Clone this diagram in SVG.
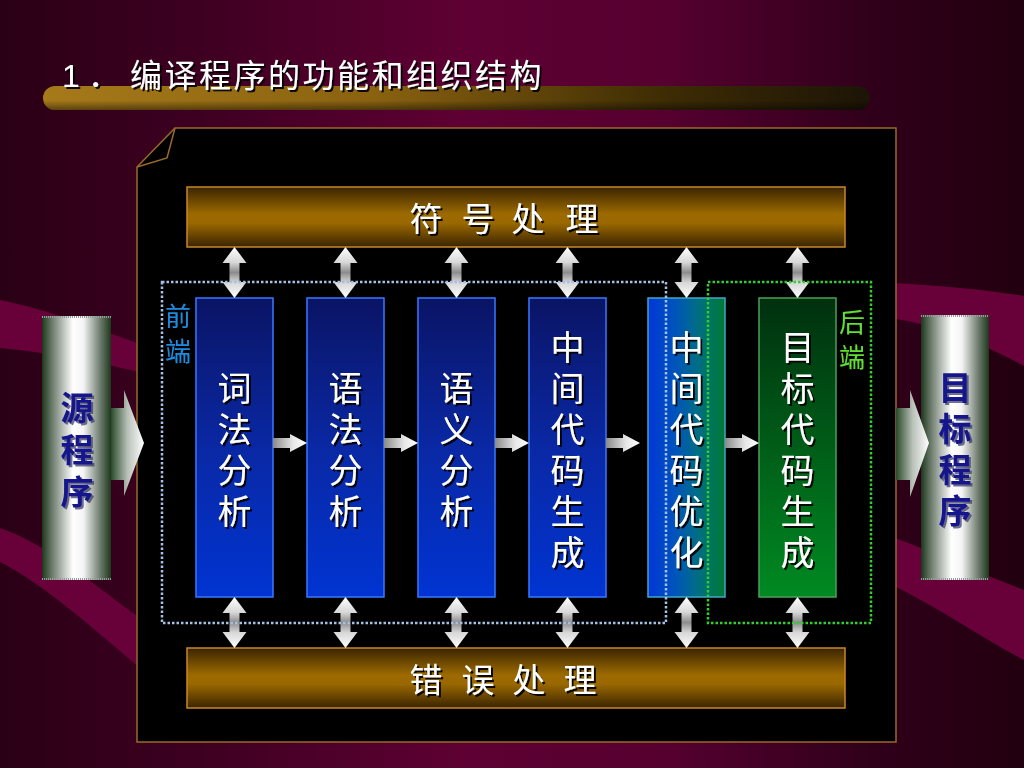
<svg xmlns="http://www.w3.org/2000/svg" xmlns:xlink="http://www.w3.org/1999/xlink" width="1024" height="768" viewBox="0 0 1024 768">
<defs>
  <linearGradient id="bg" x1="0" y1="0" x2="1" y2="0">
    <stop offset="0" stop-color="#2a0015"/>
    <stop offset="0.18" stop-color="#3c0020"/>
    <stop offset="0.45" stop-color="#5e0033"/>
    <stop offset="0.65" stop-color="#560030"/>
    <stop offset="0.85" stop-color="#30001a"/>
    <stop offset="1" stop-color="#22000f"/>
  </linearGradient>
  <linearGradient id="titlebar" x1="0" y1="0" x2="1" y2="0">
    <stop offset="0" stop-color="#a67a1a"/>
    <stop offset="0.4" stop-color="#8a6210"/>
    <stop offset="0.75" stop-color="#3e2c04"/>
    <stop offset="1" stop-color="#1c1406"/>
  </linearGradient>
  <linearGradient id="titlebarV" x1="0" y1="0" x2="0" y2="1">
    <stop offset="0" stop-color="#000" stop-opacity="0"/>
    <stop offset="0.6" stop-color="#000" stop-opacity="0"/>
    <stop offset="1" stop-color="#000" stop-opacity="0.45"/>
  </linearGradient>
  <linearGradient id="gold" x1="0" y1="0" x2="0" y2="1">
    <stop offset="0" stop-color="#3a2400"/>
    <stop offset="0.45" stop-color="#9c6a00"/>
    <stop offset="0.6" stop-color="#9a6800"/>
    <stop offset="1" stop-color="#3a2400"/>
  </linearGradient>
  <linearGradient id="blue" x1="0" y1="0" x2="0" y2="1">
    <stop offset="0" stop-color="#0a1464"/>
    <stop offset="0.5" stop-color="#0a28a4"/>
    <stop offset="1" stop-color="#0034d2"/>
  </linearGradient>
  <linearGradient id="bluegreen" x1="0" y1="0" x2="1" y2="0">
    <stop offset="0" stop-color="#0036d6"/>
    <stop offset="0.35" stop-color="#0054bc"/>
    <stop offset="0.65" stop-color="#006e84"/>
    <stop offset="1" stop-color="#007a32"/>
  </linearGradient>
  <linearGradient id="green" x1="0" y1="0" x2="0" y2="1">
    <stop offset="0" stop-color="#00300e"/>
    <stop offset="1" stop-color="#008a22"/>
  </linearGradient>
  <linearGradient id="metal" x1="0" y1="0" x2="1" y2="0">
    <stop offset="0" stop-color="#1c381c"/>
    <stop offset="0.15" stop-color="#6e7c6e"/>
    <stop offset="0.45" stop-color="#ffffff"/>
    <stop offset="0.6" stop-color="#f4f4f4"/>
    <stop offset="0.85" stop-color="#6a786a"/>
    <stop offset="1" stop-color="#1c381c"/>
  </linearGradient>
  <linearGradient id="bigArrow" x1="0" y1="0" x2="1" y2="0">
    <stop offset="0" stop-color="#2a4a2a"/>
    <stop offset="0.5" stop-color="#b8c0b8"/>
    <stop offset="1" stop-color="#ffffff"/>
  </linearGradient>
  <linearGradient id="vArrowFill" x1="0" y1="0" x2="0" y2="1">
    <stop offset="0" stop-color="#ffffff"/>
    <stop offset="0.3" stop-color="#d8d8d8"/>
    <stop offset="0.5" stop-color="#8c8c8c"/>
    <stop offset="0.7" stop-color="#d8d8d8"/>
    <stop offset="1" stop-color="#ffffff"/>
  </linearGradient>
  <linearGradient id="hArrowFill" x1="0" y1="0" x2="1" y2="0">
    <stop offset="0" stop-color="#8a8a8a"/>
    <stop offset="0.6" stop-color="#e8e8e8"/>
    <stop offset="1" stop-color="#ffffff"/>
  </linearGradient>
  <filter id="shadow" x="-20%" y="-20%" width="140%" height="140%">
    <feDropShadow dx="2" dy="2" stdDeviation="0.6" flood-color="#000" flood-opacity="0.9"/>
  </filter>
  <filter id="shadowBlue" x="-20%" y="-20%" width="140%" height="140%">
    <feDropShadow dx="2" dy="2" stdDeviation="0.6" flood-color="#303060" flood-opacity="0.7"/>
  </filter>
  <path id="vArrow" d="M0,0 L12,16 L5,16 L5,35 L12,35 L0,51 L-12,35 L-5,35 L-5,16 L-12,16 Z" fill="url(#vArrowFill)"/>
  <path id="hArrow" d="M0,-5 L17,-5 L17,-9 L34,0 L17,9 L17,5 L0,5 Z" fill="url(#hArrowFill)"/>
  <style>
    .cjk { font-family: "Liberation Sans", "Noto Sans CJK SC", sans-serif; }
    .title { font-size: 32px; fill: #ffffff; }
    .bar { stroke: #c8882c; stroke-width: 1.5; fill: url(#gold); }
    .barText { font-size: 33px; fill: #ffffff; text-anchor: middle; }
    .stageText { font-size: 34px; fill: #ffffff; text-anchor: middle; }
    .ioText { font-size: 33px; fill: #12128c; font-weight: bold; text-anchor: middle; }
    .sideText { font-size: 26px; text-anchor: middle; }
    .blueBox { fill: url(#blue); stroke: #3a78ff; stroke-width: 1.5; }
    .metalBox { fill: url(#metal); }
    .edge { stroke: #9a9a9a; stroke-width: 2; stroke-dasharray: 1 1; }
  </style>
</defs>

<!-- background -->
<rect x="0" y="0" width="1024" height="768" fill="url(#bg)"/>
<path d="M0,300 C50,310 100,330 140,344 L140,372 C95,362 45,352 0,348 Z" fill="#68003a"/>
<path d="M0,528 C50,545 100,590 140,618 L140,668 C95,630 45,585 0,562 Z" fill="#68003a"/>
<path d="M890,283 C940,285 985,290 1024,296 L1024,366 C985,345 940,325 890,318 Z" fill="#68003a"/>
<path d="M890,536 C940,555 985,575 1024,590 L1024,660 C985,640 940,608 890,584 Z" fill="#68003a"/>

<!-- title -->
<g id="title">
  <rect x="43" y="86" width="827" height="24" rx="12" fill="url(#titlebar)"/>
  <rect x="43" y="86" width="827" height="24" rx="12" fill="url(#titlebarV)"/>
  <text class="cjk title" filter="url(#shadow)" y="87"><tspan x="62">1</tspan><tspan x="88">．</tspan><tspan x="130" letter-spacing="2.5">编译程序的功能和组织结构</tspan></text>
</g>

<!-- panel -->
<g id="panel">
  <path d="M175,128 L896,128 L896,742 L137,742 L137,167 Z" fill="#000" stroke="#9a6a28" stroke-width="1.5"/>
  <path d="M175,128 L167,158 L137,167" fill="none" stroke="#9a6a28" stroke-width="1.5"/>
</g>

<!-- bars -->
<g id="symbol-table">
  <rect class="bar" x="187" y="187" width="658" height="60"/>
  <text class="cjk barText" filter="url(#shadow)" x="426 478 528 582" y="231">符号处理</text>
</g>
<g id="error-handling">
  <rect class="bar" x="187" y="648" width="658" height="60"/>
  <text class="cjk barText" filter="url(#shadow)" x="426 478 529 580" y="692">错误处理</text>
</g>

<!-- source / target -->
<g id="source">
  <rect class="metalBox" x="42" y="316" width="69" height="264"/>
  <line class="edge" x1="42" y1="317" x2="111" y2="317"/>
  <line class="edge" x1="42" y1="579" x2="111" y2="579"/>
  <text class="cjk ioText" filter="url(#shadowBlue)"><tspan x="77" y="420">源</tspan><tspan x="77" y="462">程</tspan><tspan x="77" y="504">序</tspan></text>
</g>
<g id="target">
  <rect class="metalBox" x="921" y="315" width="68" height="265"/>
  <line class="edge" x1="921" y1="316" x2="989" y2="316"/>
  <line class="edge" x1="921" y1="579" x2="989" y2="579"/>
  <text class="cjk ioText" filter="url(#shadowBlue)"><tspan x="955" y="400">目</tspan><tspan x="955" y="441">标</tspan><tspan x="955" y="482">程</tspan><tspan x="955" y="523">序</tspan></text>
</g>

<!-- stages -->
<g id="lexical">
  <rect class="blueBox" x="196" y="298" width="77" height="299"/>
  <text class="cjk stageText" filter="url(#shadow)"><tspan x="234.5" y="401">词</tspan><tspan x="234.5" y="442">法</tspan><tspan x="234.5" y="483">分</tspan><tspan x="234.5" y="524">析</tspan></text>
</g>
<g id="syntax">
  <rect class="blueBox" x="307" y="298" width="77" height="299"/>
  <text class="cjk stageText" filter="url(#shadow)"><tspan x="345.5" y="401">语</tspan><tspan x="345.5" y="442">法</tspan><tspan x="345.5" y="483">分</tspan><tspan x="345.5" y="524">析</tspan></text>
</g>
<g id="semantic">
  <rect class="blueBox" x="418" y="298" width="77" height="299"/>
  <text class="cjk stageText" filter="url(#shadow)"><tspan x="456.5" y="401">语</tspan><tspan x="456.5" y="442">义</tspan><tspan x="456.5" y="483">分</tspan><tspan x="456.5" y="524">析</tspan></text>
</g>
<g id="ir-gen">
  <rect class="blueBox" x="529" y="298" width="77" height="299"/>
  <text class="cjk stageText" filter="url(#shadow)"><tspan x="567.5" y="360">中</tspan><tspan x="567.5" y="401">间</tspan><tspan x="567.5" y="442">代</tspan><tspan x="567.5" y="483">码</tspan><tspan x="567.5" y="524">生</tspan><tspan x="567.5" y="565">成</tspan></text>
</g>
<g id="ir-opt">
  <rect x="648" y="298" width="77" height="299" fill="url(#bluegreen)" stroke="#40a8c8" stroke-width="1.5"/>
  <text class="cjk stageText" filter="url(#shadow)"><tspan x="686.5" y="360">中</tspan><tspan x="686.5" y="401">间</tspan><tspan x="686.5" y="442">代</tspan><tspan x="686.5" y="483">码</tspan><tspan x="686.5" y="524">优</tspan><tspan x="686.5" y="565">化</tspan></text>
</g>
<g id="codegen">
  <rect x="759" y="298" width="77" height="299" fill="url(#green)" stroke="#4aa05a" stroke-width="1.5"/>
  <text class="cjk stageText" filter="url(#shadow)"><tspan x="797.5" y="360">目</tspan><tspan x="797.5" y="401">标</tspan><tspan x="797.5" y="442">代</tspan><tspan x="797.5" y="483">码</tspan><tspan x="797.5" y="524">生</tspan><tspan x="797.5" y="565">成</tspan></text>
</g>

<!-- connectors -->
<g id="connectors">
  <path d="M111,408 L124,408 L124,390 L144,443 L124,496 L124,480 L111,480 Z" fill="url(#bigArrow)"/>
  <path d="M896,408 L910,408 L910,390 L929,443 L910,497 L910,480 L896,480 Z" fill="url(#bigArrow)"/>
  <use href="#vArrow" x="234.5" y="247"/>
  <use href="#vArrow" x="345.5" y="247"/>
  <use href="#vArrow" x="456.5" y="247"/>
  <use href="#vArrow" x="567.5" y="247"/>
  <use href="#vArrow" x="686.5" y="247"/>
  <use href="#vArrow" x="797.5" y="247"/>
  <use href="#vArrow" x="234.5" y="597"/>
  <use href="#vArrow" x="345.5" y="597"/>
  <use href="#vArrow" x="456.5" y="597"/>
  <use href="#vArrow" x="567.5" y="597"/>
  <use href="#vArrow" x="686.5" y="597"/>
  <use href="#vArrow" x="797.5" y="597"/>
  <use href="#hArrow" x="273" y="443"/>
  <use href="#hArrow" x="384" y="443"/>
  <use href="#hArrow" x="495" y="443"/>
  <use href="#hArrow" x="606" y="443"/>
  <use href="#hArrow" x="725" y="443"/>
</g>

<!-- groupings -->
<g id="front-end">
  <rect x="162" y="282" width="504" height="341" fill="none" stroke="#a4c0e4" stroke-width="2.5" stroke-dasharray="2.5 2"/>
  <text class="cjk sideText" fill="#1e8ce0" filter="url(#shadow)"><tspan x="178" y="326">前</tspan><tspan x="178" y="361">端</tspan></text>
</g>
<g id="back-end">
  <rect x="708" y="282" width="163" height="341" fill="none" stroke="#30d030" stroke-width="2.5" stroke-dasharray="2.5 2"/>
  <text class="cjk sideText" fill="#60e030" filter="url(#shadow)"><tspan x="852" y="332">后</tspan><tspan x="852" y="367">端</tspan></text>
</g>
</svg>
